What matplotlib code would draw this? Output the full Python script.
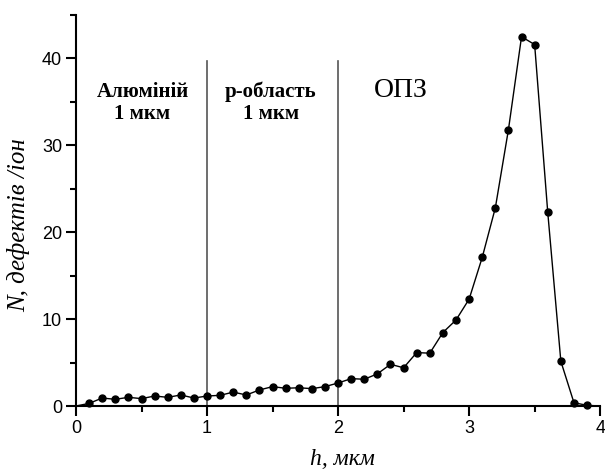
import numpy as np
import matplotlib.pyplot as plt
from matplotlib.ticker import MultipleLocator

# глибина h, мкм (крок 0.1)
h = [0.0, 0.1, 0.2, 0.3, 0.4, 0.5, 0.6, 0.7, 0.8, 0.9,
     1.0, 1.1, 1.2, 1.3, 1.4, 1.5, 1.6, 1.7, 1.8, 1.9,
     2.0, 2.1, 2.2, 2.3, 2.4, 2.5, 2.6, 2.7, 2.8, 2.9,
     3.0, 3.1, 3.2, 3.3, 3.4, 3.5, 3.6, 3.7, 3.8, 3.9, 4.0]
# кількість дефектів на іон
N = [0.0, 0.3, 0.92, 0.77, 1.0, 0.85, 1.15, 1.0, 1.27, 0.92,
     1.15, 1.23, 1.6, 1.27, 1.85, 2.23, 2.04, 2.1, 2.0, 2.23,
     2.65, 3.15, 3.08, 3.7, 4.8, 4.4, 6.15, 6.08, 8.46, 9.9,
     12.3, 17.1, 22.8, 31.8, 42.5, 41.6, 22.3, 5.15, 0.38, 0.08, 0.0]

boundaries = [1, 2]
boundary_top = 39.7

serif = ['Liberation Serif', 'DejaVu Serif']
sans = ['Liberation Sans', 'DejaVu Sans']

fig = plt.figure(figsize=(6.05, 4.72), dpi=100)
ax = fig.add_axes([0.1256, 0.1398, 0.8664, 0.8284])

# крайні точки (0 і 4) без маркерів, як на оригіналі
ax.plot(h, N, color='black', linewidth=1.0, marker='o', markersize=5,
        markerfacecolor='black', markeredgecolor='black',
        markevery=list(range(1, len(h) - 1)), clip_on=False, zorder=3)

for b in boundaries:
    ax.plot([b, b], [0, boundary_top], color='#555555', linewidth=1.2, zorder=2)

ax.text(0.507, 34.9, 'Алюміній\n1 мкм', ha='center', va='center', fontsize=15,
        fontweight='bold', family=serif, linespacing=1.15)
ax.text(1.485, 34.9, 'p-область\n1 мкм', ha='center', va='center', fontsize=15,
        fontweight='bold', family=serif, linespacing=1.15)
ax.text(2.48, 36.3, 'ОПЗ', ha='center', va='center', fontsize=20, family=serif)

ax.set_xlim(0, 4)
ax.set_ylim(0, 45)
ax.spines['top'].set_visible(False)
ax.spines['right'].set_visible(False)
for s in ('left', 'bottom'):
    ax.spines[s].set_linewidth(1.5)

ax.xaxis.set_major_locator(MultipleLocator(1))
ax.xaxis.set_minor_locator(MultipleLocator(0.5))
ax.yaxis.set_major_locator(MultipleLocator(10))
ax.yaxis.set_minor_locator(MultipleLocator(5))
ax.tick_params(which='major', direction='out', length=7, width=1.5, labelsize=13, pad=3)
ax.tick_params(which='minor', direction='out', length=4, width=1.5)
for lab in ax.get_xticklabels() + ax.get_yticklabels():
    lab.set_family(sans)

ax.set_xlabel('h, мкм', fontsize=17, style='italic', family=serif)
ax.set_ylabel('N, дефектів /іон', fontsize=18, style='italic', family=serif)
ax.xaxis.set_label_coords(0.508, -0.11)
ax.yaxis.set_label_coords(-0.088, 0.463)

plt.savefig('out.png', dpi=100)
